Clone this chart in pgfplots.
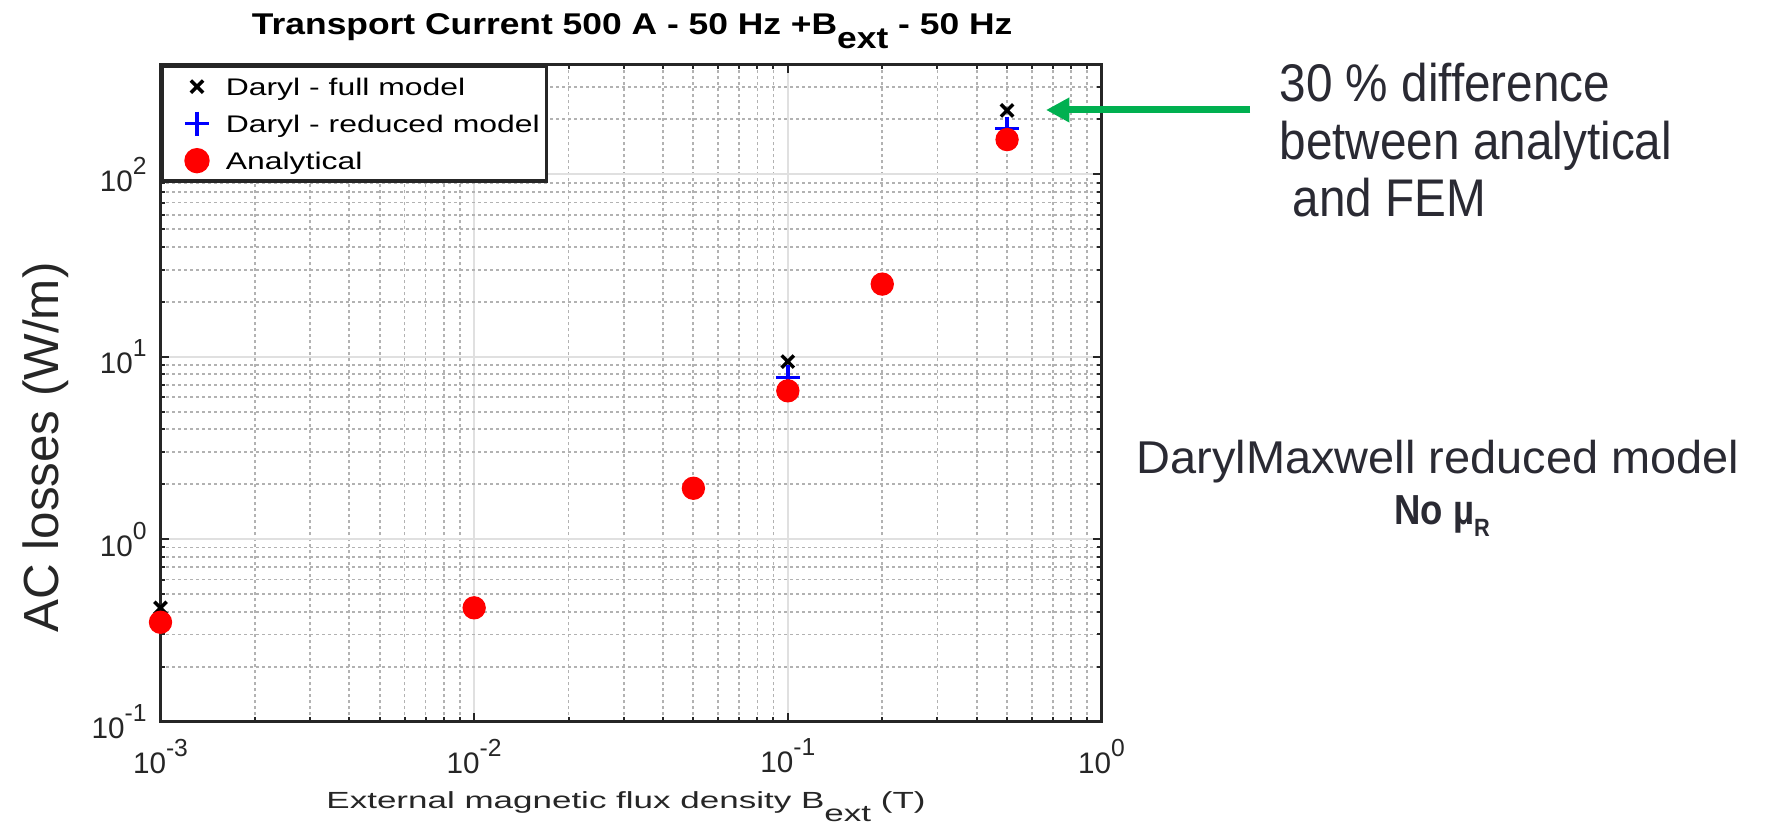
\documentclass[border=0pt]{standalone}
\usepackage{fontspec}
\setmainfont{Liberation Sans}
\usepackage{graphicx}
\usepackage{pgfplots}
\pgfplotsset{compat=1.18}
\usetikzlibrary{arrows.meta}

\definecolor{mlgray}{HTML}{262626}
\definecolor{annot}{HTML}{2A2A33}
\definecolor{arrowgreen}{HTML}{00B050}
% superscript for the decade labels
\newcommand{\sy}[1]{\raisebox{5.1pt}{\fontsize{7.4}{7.4}\selectfont #1}}

\begin{document}
\begin{tikzpicture}
\useasboundingbox (-48.15pt,-31.65pt) rectangle (481.95pt,216.45pt);
\begin{axis}[
  at={(0pt,0pt)}, anchor=south west,
  scale only axis, width=282.3pt, height=197.1pt,
  xmode=log, ymode=log,
  xmin=1e-3, xmax=1, ymin=0.1, ymax=400,
  clip=false,
  axis line style={line width=1.05pt, mlgray},
  tick align=inside,
  major tick length=2.7pt, minor tick length=1.5pt,
  tick style={mlgray, line width=0.6pt},
  grid=both,
  major grid style={line width=0.6pt, black!12},
  minor grid style={line width=0.55pt, black!30, dash pattern=on 0.9pt off 0.9pt},
  xtick={0.001,0.01,0.1,1},
  xticklabels={10\sy{-3},10\sy{-2},10\sy{-1},10\sy{0}},
  minor xtick={0.002,0.003,0.004,0.005,0.006,0.007,0.008,0.009,
               0.02,0.03,0.04,0.05,0.06,0.07,0.08,0.09,
               0.2,0.3,0.4,0.5,0.6,0.7,0.8,0.9},
  ytick={0.1,1,10,100},
  yticklabels={10\sy{-1},10\sy{0},10\sy{1},10\sy{2}},
  minor ytick={0.2,0.3,0.4,0.5,0.6,0.7,0.8,0.9,
               2,3,4,5,6,7,8,9,20,30,40,50,60,70,80,90,200,300},
  ticklabel style={font=\fontsize{8.9}{8.9}\selectfont, text=mlgray, inner sep=0pt},
  xticklabel style={yshift=-5pt},
  yticklabel style={xshift=-4pt},
  legend cell align=left,
  legend style={at={(0,1)}, anchor=north west, draw=mlgray, line width=1pt,
    fill=white, inner xsep=2pt, inner ysep=2.25pt, row sep=3.3pt, column sep=0pt,
    font=\fontsize{7.2}{7.2}\selectfont,
    nodes={inner sep=0pt, text height=6.5pt, text depth=1.3pt}},
  legend image code/.code={\path (-7.9pt,0pt) (8.1pt,0pt);
    \draw[#1] plot coordinates {(0pt,0pt)};},
]
\addplot[only marks, mark=x, mark size=2.6pt, black, line width=1.05pt]
  coordinates {(0.001,0.42)(0.1,9.4)(0.5,224)};
\addlegendentry{\scalebox{1.33}[1]{Daryl - full model}}
\addplot[only marks, mark=+, mark size=3.6pt, blue, line width=1.1pt]
  coordinates {(0.1,7.7)(0.5,178)};
\addlegendentry{\scalebox{1.33}[1]{Daryl - reduced model}}
\addplot[only marks, mark=*, mark size=3.3pt, red, mark options={draw=red, fill=red}]
  coordinates {(0.001,0.35)(0.01,0.42)(0.05,1.9)(0.1,6.5)(0.2,25)(0.5,155)};
\addlegendentry{\scalebox{1.33}[1]{Analytical}}
\end{axis}

% titles and axis labels
\node[anchor=base, font=\bfseries\fontsize{9}{9}\selectfont, inner sep=0pt]
  at (141.5pt,205.95pt)
  {\scalebox{1.18}[1]{Transport Current 500 A - 50 Hz +B\raisebox{-4.2pt}{ext} - 50 Hz}};
\node[anchor=base, rotate=90, font=\fontsize{14.8}{14.8}\selectfont, text=mlgray, inner sep=0pt]
  at (-30.5pt,82.2pt) {AC losses (W/m)};
\node[anchor=base, font=\fontsize{7}{7}\selectfont, text=mlgray, inner sep=0pt]
  at (139.65pt,-26.2pt)
  {\scalebox{1.5}[1]{External magnetic flux density B\raisebox{-3.9pt}{ext} (T)}};

% annotations
\draw[arrowgreen, line width=2.1pt, -{Triangle[length=7pt,width=7pt]}]
  (326.85pt,183.45pt) -- (265.65pt,183.45pt);
\begin{scope}[every node/.style={anchor=base west, inner sep=0pt, text=annot,
    font=\fontsize{15.9}{15.9}\selectfont}]
\node at (335.55pt,185.85pt) {\scalebox{0.9}[1]{30 \% difference}};
\node at (335.55pt,168.45pt) {\scalebox{0.9}[1]{between analytical}};
\node at (339.45pt,151.35pt) {\scalebox{0.9}[1]{and FEM}};
\end{scope}
\node[anchor=base, inner sep=0pt, text=annot, font=\fontsize{13.8}{13.8}\selectfont]
  at (383.25pt,74.25pt) {\scalebox{1.02}[1]{DarylMaxwell reduced model}};
\node[anchor=base, inner sep=0pt, text=annot, font=\bfseries\fontsize{12.6}{12.6}\selectfont]
  at (384.45pt,58.95pt)
  {\scalebox{0.87}[1]{No µ\raisebox{-3.6pt}{\fontsize{7.5}{7.5}\selectfont R}}};
\end{tikzpicture}
\end{document}
